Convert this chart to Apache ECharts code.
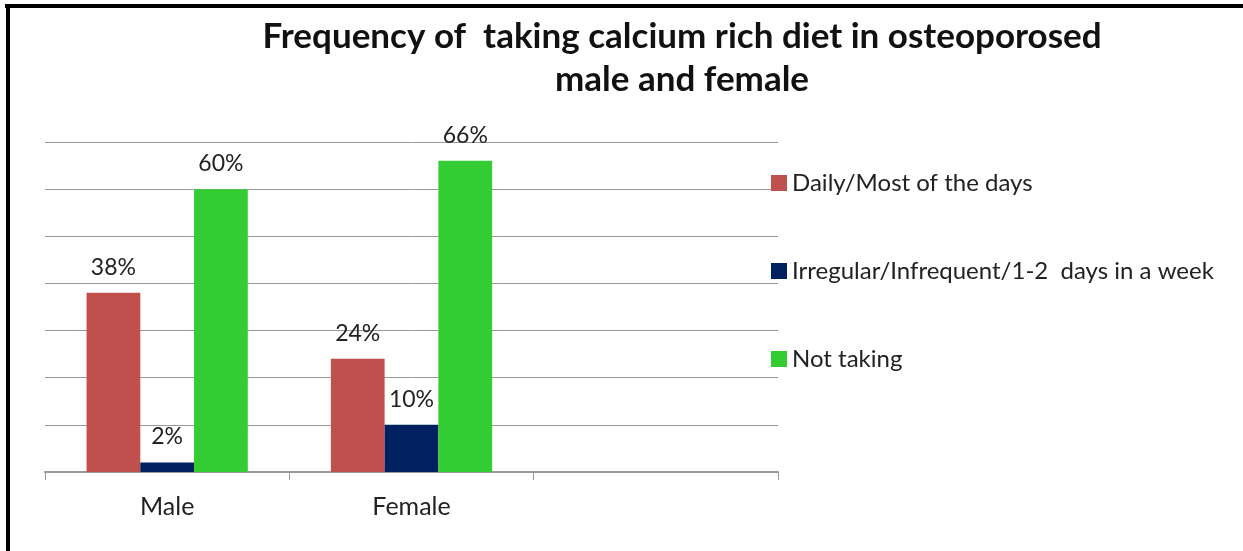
<!DOCTYPE html>
<html>
<head>
<meta charset="utf-8">
<script src="https://cdn.jsdelivr.net/npm/echarts@6/dist/echarts.min.js"></script>
<style>
  html, body { margin: 0; padding: 0; background: #fff; }
  #chart { width: 1243px; height: 551px; }
</style>
</head>
<body>
<div id="chart"></div>
<script>
const categories = ['Male', 'Female', ''];
const seriesNames = ['Daily/Most of the days', 'Irregular/Infrequent/1-2  days in a week', 'Not taking'];
const daily = [38, 24, null];
const irregular = [2, 10, null];
const notTaking = [60, 66, null];
const colors = ['#C0504D', '#002060', '#33CC33'];

const font = 'Lato, "Open Sans", sans-serif';
const chart = echarts.init(document.getElementById('chart'));

const mkSeries = (name, data, color) => ({
  name,
  type: 'bar',
  data,
  barGap: 0,
  barCategoryGap: '34%',
  itemStyle: { color },
  label: {
    show: true,
    position: 'top',
    distance: 14,
    formatter: '{c}%',
    fontFamily: font,
    fontSize: 23,
    color: '#222'
  }
});

chart.setOption({
  animation: false,
  title: {
    text: 'Frequency of  taking calcium rich diet in osteoporosed\nmale and female',
    left: 677,
    top: 10,
    textAlign: 'center',
    textStyle: {
      fontFamily: font,
      fontWeight: 'bold',
      fontSize: 35,
      lineHeight: 43,
      color: '#111'
    }
  },
  legend: {
    orient: 'vertical',
    left: 766,
    top: 166,
    itemWidth: 16,
    itemHeight: 16,
    itemGap: 64,
    icon: 'rect',
    textStyle: { fontFamily: font, fontSize: 24, color: '#222' },
    data: seriesNames
  },
  grid: { left: 45, right: 465, top: 142, bottom: 79, containLabel: false },
  xAxis: {
    type: 'category',
    data: categories,
    axisLine: { lineStyle: { color: '#999', width: 2 } },
    axisTick: { show: true, length: 8, lineStyle: { color: '#999' } },
    axisLabel: { fontFamily: font, fontSize: 25, color: '#222', margin: 22 }
  },
  yAxis: {
    type: 'value',
    min: 0,
    max: 70,
    interval: 10,
    axisLabel: { show: false },
    axisLine: { show: false },
    axisTick: { show: false },
    splitLine: { lineStyle: { color: '#999', width: 1 } }
  },
  series: [
    mkSeries(seriesNames[0], daily, colors[0]),
    mkSeries(seriesNames[1], irregular, colors[1]),
    mkSeries(seriesNames[2], notTaking, colors[2])
  ],
  graphic: [
    { type: 'rect', shape: { x: 5, y: 4, width: 1238, height: 4 }, style: { fill: '#000' } },
    { type: 'rect', shape: { x: 6, y: 4, width: 4, height: 547 }, style: { fill: '#000' } }
  ]
});
</script>
</body>
</html>
